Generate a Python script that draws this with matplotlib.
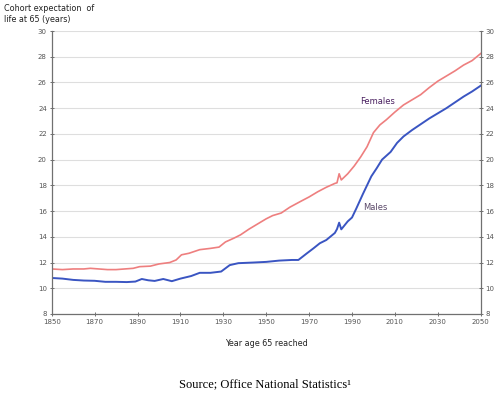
import numpy as np
import matplotlib
matplotlib.use("Agg")
import matplotlib.pyplot as plt

# cohort life expectancy at 65
fem_years = [1850, 1855, 1860, 1865, 1868, 1872, 1876, 1880, 1884, 1888,
             1891, 1896, 1900, 1905, 1908, 1910.5, 1914, 1919, 1924, 1928,
             1931, 1935, 1938, 1942, 1946, 1950, 1953, 1957, 1961, 1966,
             1970, 1974, 1978, 1982, 1983, 1984, 1985, 1988, 1991, 1994,
             1997, 2000, 2003, 2006, 2010, 2014, 2018, 2022, 2026, 2030,
             2034, 2038, 2042, 2046, 2050]
fem_vals = [11.5, 11.45, 11.5, 11.5, 11.55, 11.5, 11.45, 11.45, 11.5, 11.55,
            11.68, 11.72, 11.89, 12.0, 12.2, 12.6, 12.72, 13.0, 13.1, 13.2,
            13.6, 13.9, 14.15, 14.6, 15.0, 15.4, 15.65, 15.85, 16.3, 16.75,
            17.1, 17.5, 17.85, 18.15, 18.2, 18.9, 18.42, 18.9, 19.5, 20.2,
            21.0, 22.1, 22.7, 23.1, 23.7, 24.25, 24.65, 25.05, 25.6, 26.1,
            26.5, 26.9, 27.35, 27.7, 28.25]

male_years = [1850, 1855, 1860, 1865, 1870, 1875, 1880, 1885, 1889, 1892,
              1895, 1898, 1902, 1906, 1910, 1915, 1919, 1924, 1929, 1933,
              1937, 1944, 1950, 1956, 1962, 1965, 1969, 1972, 1975, 1978,
              1982, 1983, 1984, 1985, 1988, 1990, 1992, 1995, 1997, 1999,
              2001.5, 2004, 2008, 2011, 2014, 2018, 2022, 2026, 2030, 2034,
              2038, 2042, 2046, 2050]
male_vals = [10.8, 10.75, 10.65, 10.6, 10.58, 10.5, 10.5, 10.48, 10.52, 10.72,
             10.62, 10.57, 10.72, 10.55, 10.75, 10.95, 11.2, 11.2, 11.3, 11.8,
             11.95, 12.0, 12.05, 12.15, 12.2, 12.2, 12.72, 13.1, 13.5, 13.75,
             14.3, 14.6, 15.1, 14.58, 15.2, 15.5, 16.2, 17.3, 18.0, 18.7,
             19.33, 20.0, 20.6, 21.3, 21.8, 22.3, 22.75, 23.2, 23.6, 24.0,
             24.45, 24.9, 25.3, 25.75]

x_ticks = list(range(1850, 2051, 20))
y_ticks = list(range(8, 31, 2))

fig = plt.figure(figsize=(5.04, 3.98), dpi=100)
ax = fig.add_axes([0.1026, 0.2111, 0.8512, 0.711])

ax.plot(fem_years, fem_vals, color="#ee7f7f", lw=1.2)
ax.plot(male_years, male_vals, color="#3a55c2", lw=1.4)

ax.set_xlim(1850, 2050)
ax.set_ylim(8, 30)
ax.set_xticks(x_ticks)
ax.set_yticks(y_ticks)
ax.grid(axis="y", color="#dedede", lw=0.8)
ax.set_axisbelow(True)

for s in ["left", "right", "bottom"]:
    ax.spines[s].set_color("#707070")
    ax.spines[s].set_linewidth(0.9)
ax.spines["top"].set_visible(False)

ax.tick_params(axis="both", labelsize=5, labelcolor="#555555", color="#707070",
               direction="inout", length=3, width=0.7, pad=2)
ax.tick_params(axis="y", right=True, labelright=True)

ax.text(2002, 24.5, "Females", fontsize=6, color="#4a2060", ha="center", va="center")
ax.text(2000.7, 16.3, "Males", fontsize=6, color="#5a4868", ha="center", va="center")

ax.set_xlabel("Year age 65 reached", fontsize=5.8, color="#222222", labelpad=10)

fig.text(0.008, 0.99, "Cohort expectation  of\nlife at 65 (years)", fontsize=5.8,
         color="#222222", ha="left", va="top", linespacing=1.3)

fig.text(0.525, 0.028, "Source; Office National Statistics\u00b9", fontsize=9,
         family="Liberation Serif", ha="center", va="baseline", color="black")

fig.savefig("out.png", dpi=100)
